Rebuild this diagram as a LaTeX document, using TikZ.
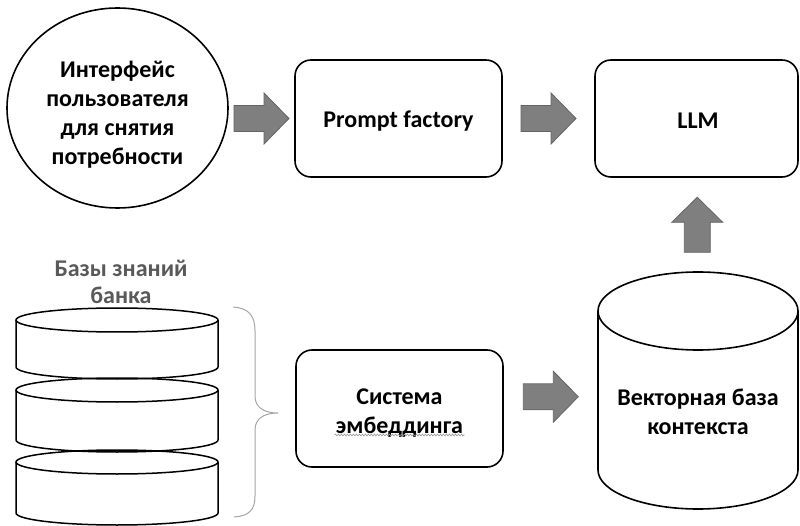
\documentclass[tikz,border=0pt]{standalone}
\usepackage{fontspec}
\setmainfont{Carlito}
\usetikzlibrary{shapes.geometric,calc,decorations.pathmorphing}
\definecolor{arrfill}{RGB}{127,127,127}
\definecolor{arrline}{RGB}{100,100,100}
\definecolor{titlegray}{RGB}{89,89,89}
\definecolor{bracegray}{RGB}{165,165,165}
\definecolor{wavegray}{RGB}{150,150,150}
\tikzset{
  pics/blockarrow/.style={code={
    \draw[arrowbody] (-27.5,-13) -- (2.5,-13) -- (2.5,-25.5) -- (27.5,0)
      -- (2.5,25.5) -- (2.5,13) -- (-27.5,13) -- cycle;}},
}
\begin{document}
\begin{tikzpicture}[x=1pt,y=-1pt,
  every node/.style={font=\fontsize{24}{29}\selectfont\bfseries, align=center, inner sep=0pt},
  outline/.style={draw=black, line width=1.6pt},
  roundbox/.style={outline, rounded corners=16pt, minimum width=207pt, minimum height=117pt},
  arrowbody/.style={fill=arrfill, draw=arrline, line width=0.8pt, line join=miter},
  kbtitle/.style={text=titlegray, font=\fontsize{24}{27}\selectfont\bfseries},
  dbline/.style={draw=black, line width=1.5pt},
  bracestyle/.style={draw=bracegray, line width=1pt},
]
\useasboundingbox (0,0) rectangle (800,526);

% top row
\node[ellipse, outline, minimum width=221pt, minimum height=200pt] (circ) at (117.5,108) {};
\node (circtxt) at (117.5,114.5) {Интерфейс\\пользователя\\для снятия\\потребности};
\node[roundbox] (pf) at (398.5,118.5) {};
\node (pftxt) at ($(pf.center)+(0,2.5)$) {Prompt factory};
\node[roundbox, minimum width=203pt] (llm) at (696.5,118.5) {};
\node (llmtxt) at ($(llm.center)+(1.5,2)$) {LLM};

% vector database cylinder
\draw[outline, fill=white] (698,311) ellipse [x radius=100pt, y radius=39pt];
\draw[outline] (598,311) -- (598,470)
  arc [start angle=180, end angle=360, x radius=100pt, y radius=39pt] -- (798,311);
\node[minimum width=200pt, minimum height=236pt] (vec) at (698,390) {};
\node (vectxt) at (698,411.5) {Векторная база\\контекста};

% embedding system
\node[roundbox] (emb) at (399.5,408.5) {};
\node (embtxt) at ($(emb.center)+(0,4.5)$) {Система\\эмбеддинга};
\draw[draw=wavegray, line width=0.6pt, decorate,
  decoration={snake, amplitude=0.9pt, segment length=3pt}]
  ($(emb.center)+(-65,26.5)$) -- ($(emb.center)+(65,26.5)$);

% knowledge bases stack
\node[kbtitle] (kbt) at (121,281.5) {Базы знаний\\банка};
\draw[dbline] (117,320) ellipse [x radius=101pt, y radius=12pt];
\draw[dbline] (16,320) -- (16,367)
  arc [start angle=180, end angle=360, x radius=101pt, y radius=12pt] -- (218,320);
\draw[dbline] (117,390) ellipse [x radius=101pt, y radius=12pt];
\draw[dbline] (16,390) -- (16,440)
  arc [start angle=180, end angle=360, x radius=101pt, y radius=12pt] -- (218,390);
\draw[dbline] (117,462) ellipse [x radius=101pt, y radius=12pt];
\draw[dbline] (16,462) -- (16,513)
  arc [start angle=180, end angle=360, x radius=101pt, y radius=12pt] -- (218,462);

% brace
\coordinate (brtop) at (233,307);
\coordinate (brtip) at (278,413);
\coordinate (brbot) at (234,517);
\draw[bracestyle] (brtop) .. controls (249,308) and (255,316) .. (255,331)
  -- (255,396) .. controls (255,406) and (262,413) .. (brtip)
  .. controls (262,413) and (255,420) .. (255,430)
  -- (255,496) .. controls (255,510) and (249,516) .. (brbot);

% block arrows
\coordinate (a1) at ($(circ.east)!0.5!(pf.west)$);
\pic at (a1 |- pf.west) {blockarrow};
\coordinate (a2) at ($(pf.east)!0.5!(llm.west)$);
\pic at (a2) {blockarrow};
\coordinate (a3) at ($(emb.east)!0.5!(vec.west)$);
\pic at ([yshift=2.5pt]a3) {blockarrow};
\coordinate (a4) at ($(vec.north)!0.5!(llm.south)$);
\pic[rotate=90] at (a4) {blockarrow};
\end{tikzpicture}
\end{document}
